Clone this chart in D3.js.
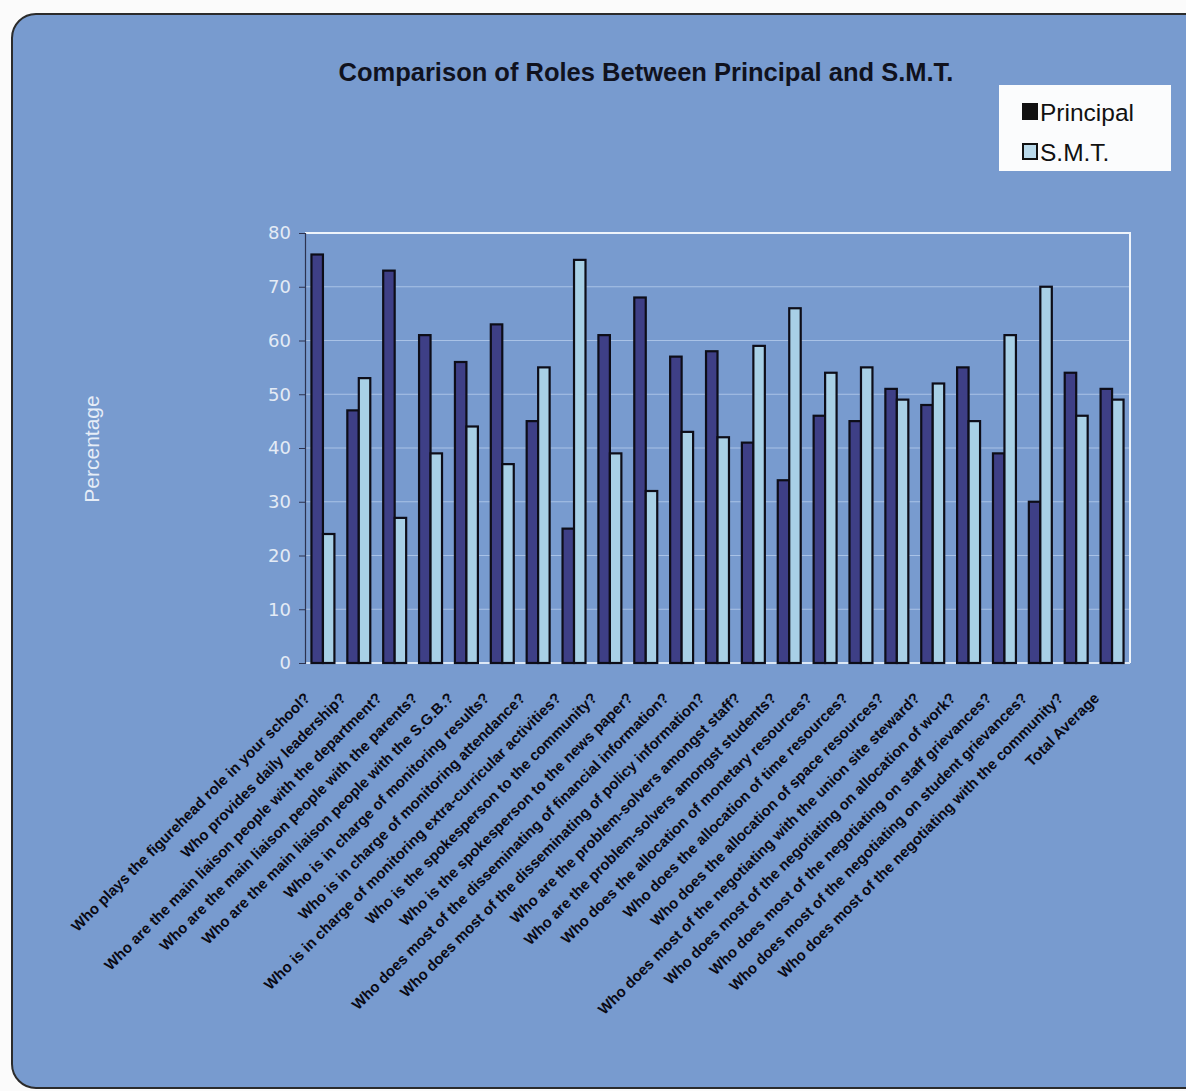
<!DOCTYPE html>
<html>
<head>
<meta charset="utf-8">
<script src="https://cdn.jsdelivr.net/npm/d3@7"></script>
<style>
  body { margin: 0; background: #fbfbfb; }
  svg { display: block; }
</style>
</head>
<body>
<svg id="chart" width="1186" height="1091"></svg>
<script>
// chart data
var questions = [
  "Who plays the figurehead role in your school?",
  "Who provides daily leadership?",
  "Who are the main liaison people with the department?",
  "Who are the main liaison people with the parents?",
  "Who are the main liaison people with the S.G.B.?",
  "Who is in charge of monitoring results?",
  "Who is in charge of monitoring attendance?",
  "Who is in charge of monitoring extra-curricular activities?",
  "Who is the spokesperson to the community?",
  "Who is the spokesperson to the news paper?",
  "Who does most of the disseminating of financial information?",
  "Who does most of the disseminating of policy information?",
  "Who are the problem-solvers amongst staff?",
  "Who are the problem-solvers amongst students?",
  "Who does the allocation of monetary resources?",
  "Who does the allocation of time resources?",
  "Who does the allocation of space resources?",
  "Who does most of the negotiating with the union site steward?",
  "Who does most of the negotiating on allocation of work?",
  "Who does most of the negotiating on staff grievances?",
  "Who does most of the negotiating on student grievances?",
  "Who does most of the negotiating with the community?",
  "Total Average"
];
var principal = [76, 47, 73, 61, 56, 63, 45, 25, 61, 68, 57, 58, 41, 34, 46, 45, 51, 48, 55, 39, 30, 54, 51];
var smt       = [24, 53, 27, 39, 44, 37, 55, 75, 39, 32, 43, 42, 59, 66, 54, 55, 49, 52, 45, 61, 70, 46, 49];
var seriesNames = ["Principal", "S.M.T."];
var yTicks = [0, 10, 20, 30, 40, 50, 60, 70, 80];

var svg = d3.select("#chart");
var bg = "#789bcf";

// outer rounded frame
svg.append("rect")
  .attr("x", 12).attr("y", 14)
  .attr("width", 1200).attr("height", 1074)
  .attr("rx", 24)
  .attr("fill", bg)
  .attr("stroke", "#2b2b2b")
  .attr("stroke-width", 2);

var plot = {left: 305, right: 1130, top: 233, bottom: 663};

var x = d3.scaleBand()
  .domain(questions)
  .range([plot.left, plot.right])
  .paddingInner(0.36)
  .paddingOuter(0.18);

var xs = d3.scaleBand()
  .domain(seriesNames)
  .range([0, x.bandwidth()]);

var y = d3.scaleLinear()
  .domain([0, 80])
  .range([plot.bottom, plot.top]);

// gridlines
svg.append("g")
  .selectAll("line")
  .data(yTicks.slice(1, -1))
  .enter().append("line")
  .attr("x1", plot.left).attr("x2", plot.right)
  .attr("y1", function (d) { return y(d); })
  .attr("y2", function (d) { return y(d); })
  .attr("stroke", "#a9c2e6")
  .attr("stroke-width", 1);

// plot frame: top and right light border, bottom light line
svg.append("path")
  .attr("d", "M" + plot.left + "," + plot.top + "H" + plot.right + "V" + plot.bottom)
  .attr("fill", "none")
  .attr("stroke", "#eef4fb")
  .attr("stroke-width", 2);
svg.append("line")
  .attr("x1", plot.left).attr("x2", plot.right)
  .attr("y1", plot.bottom).attr("y2", plot.bottom)
  .attr("stroke", "#dde8f6")
  .attr("stroke-width", 2);

// bars
var rows = questions.map(function (q, i) {
  return {q: q, values: [principal[i], smt[i]]};
});
var fills = ["#3e3f86", "#a8d0e6"];

var groups = svg.append("g").selectAll("g")
  .data(rows)
  .enter().append("g")
  .attr("transform", function (d) { return "translate(" + x(d.q) + ",0)"; });

groups.selectAll("rect")
  .data(function (d) { return d.values; })
  .enter().append("rect")
  .attr("x", function (d, i) { return xs(seriesNames[i]); })
  .attr("y", function (d) { return y(d); })
  .attr("width", xs.bandwidth())
  .attr("height", function (d) { return y(0) - y(d); })
  .attr("fill", function (d, i) { return fills[i]; })
  .attr("stroke", "#0d0d18")
  .attr("stroke-width", 2.2);

// y axis
var yAxis = d3.axisLeft(y).tickValues(yTicks).tickSize(6).tickPadding(8);
var yg = svg.append("g")
  .attr("transform", "translate(" + plot.left + ",0)")
  .call(yAxis);
yg.select(".domain").attr("stroke", "#2d3350").attr("stroke-width", 1.2);
yg.selectAll(".tick line").attr("stroke", "#2d3350");
yg.selectAll(".tick text")
  .attr("fill", "#e4ebf5")
  .style("font-family", "'DejaVu Sans', sans-serif")
  .style("font-size", "18px");

// x labels, rotated
svg.append("g").selectAll("text")
  .data(questions)
  .enter().append("text")
  .attr("transform", function (d) {
    return "translate(" + (x(d) + x.bandwidth() / 2 - 12) + ",699) rotate(-45)";
  })
  .attr("text-anchor", "end")
  .style("font-family", "'Liberation Sans', Arial, sans-serif")
  .style("font-weight", "bold")
  .style("font-size", "15px")
  .attr("fill", "#0a0a14")
  .text(function (d) { return d; });

// y title
svg.append("text")
  .attr("transform", "translate(99,449) rotate(-90)")
  .attr("text-anchor", "middle")
  .style("font-family", "'Liberation Sans', Arial, sans-serif")
  .style("font-size", "21px")
  .attr("fill", "#e6edf7")
  .text("Percentage");

// title
svg.append("text")
  .attr("x", 646).attr("y", 81)
  .attr("text-anchor", "middle")
  .style("font-family", "'Liberation Sans', Arial, sans-serif")
  .style("font-weight", "bold")
  .style("font-size", "25.5px")
  .attr("fill", "#10121e")
  .text("Comparison of Roles Between Principal and S.M.T.");

// legend
var legend = svg.append("g");
legend.append("rect")
  .attr("x", 999).attr("y", 85)
  .attr("width", 172).attr("height", 86)
  .attr("fill", "#fbfcfd");
var legendItems = legend.selectAll("g")
  .data(seriesNames)
  .enter().append("g")
  .attr("transform", function (d, i) { return "translate(1023," + (112 + i * 40) + ")"; });
legendItems.append("rect")
  .attr("x", 0).attr("y", -8)
  .attr("width", 14).attr("height", 15)
  .attr("fill", function (d, i) { return i === 0 ? "#111" : "#b9d9ea"; })
  .attr("stroke", "#111")
  .attr("stroke-width", 2);
legendItems.append("text")
  .attr("x", 17).attr("y", 9)
  .style("font-family", "'Liberation Sans', Arial, sans-serif")
  .style("font-size", "24.5px")
  .attr("fill", "#111")
  .text(function (d) { return d; });
</script>
</body>
</html>
